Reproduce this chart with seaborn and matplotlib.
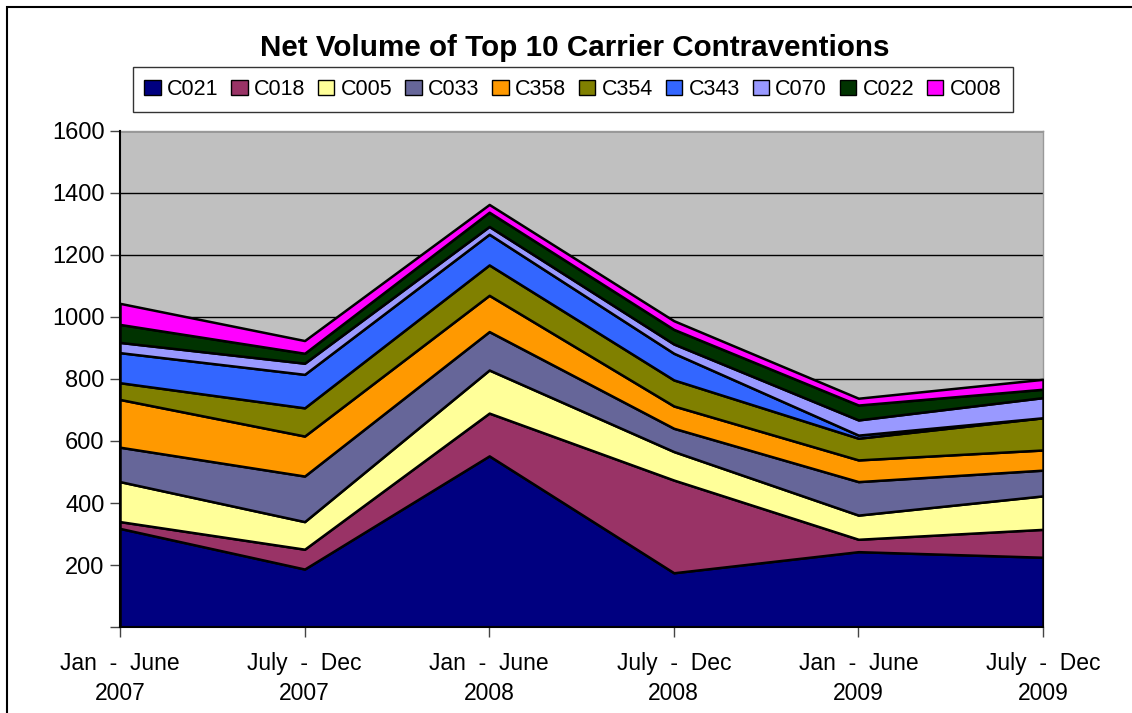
import matplotlib
matplotlib.use("Agg")
import matplotlib.pyplot as plt
from matplotlib.patches import Patch, Rectangle
import seaborn as sns

periods = ["Jan  -  June\n2007", "July  -  Dec\n2007", "Jan  -  June\n2008",
           "July  -  Dec\n2008", "Jan  -  June\n2009", "July  -  Dec\n2009"]

carriers = ["C021", "C018", "C005", "C033", "C358", "C354", "C343", "C070", "C022", "C008"]

c021 = [318, 187, 552, 175, 243, 225]
c018 = [22, 64, 138, 299, 40, 90]
c005 = [129, 89, 139, 92, 78, 108]
c033 = [111, 147, 124, 75, 108, 83]
c358 = [154, 129, 117, 72, 70, 65]
c354 = [54, 91, 98, 84, 70, 104]
c343 = [97, 108, 99, 86, 10, 0]
c070 = [33, 36, 25, 30, 49, 65]
c022 = [58, 32, 46, 47, 48, 27]
c008 = [68, 41, 25, 28, 22, 32]

series = [c021, c018, c005, c033, c358, c354, c343, c070, c022, c008]
colors = ["#000080", "#993366", "#FFFF99", "#666699", "#FF9900",
          "#808000", "#3366FF", "#9999FF", "#003300", "#FF00FF"]

sns.set_style("white")
plt.rcParams['font.family'] = ['Liberation Sans', 'DejaVu Sans']
plt.rcParams['text.color'] = 'black'
plt.rcParams['xtick.color'] = 'black'
plt.rcParams['ytick.color'] = 'black'

fig = plt.figure(figsize=(11.32, 7.13), dpi=100)
ax = fig.add_axes([0.106, 0.1206, 0.8154, 0.6957])
ax.set_facecolor("#C0C0C0")

x = list(range(len(periods)))
ax.stackplot(x, *series, colors=colors, edgecolor="black", linewidth=1.8, zorder=3)

ax.set_xlim(0, len(periods) - 1)
ax.set_ylim(0, 1600)
yt = list(range(0, 1601, 200))
ax.set_yticks(yt)
ax.set_yticklabels([""] + [str(v) for v in yt[1:]], fontsize=17)
ax.set_xticks(x)
ax.set_xticklabels(periods, fontsize=16.5, linespacing=1.4)
ax.yaxis.grid(True, color="black", linewidth=1, zorder=1)
ax.set_axisbelow(True)
ax.tick_params(axis="both", direction="out", length=7, width=1, color="#444444",
               left=True, bottom=True, pad=4)
ax.tick_params(axis="x", pad=11)

for side in ["top", "right"]:
    ax.spines[side].set_color("#999999")
    ax.spines[side].set_linewidth(1)
for side in ["left", "bottom"]:
    ax.spines[side].set_color("black")
    ax.spines[side].set_linewidth(1.5)
    ax.spines[side].set_zorder(5)

fig.text(0.508, 0.932, "Net Volume of Top 10 Carrier Contraventions",
         ha="center", va="center", fontsize=21.3, fontweight="bold")

handles = [Patch(facecolor=c, edgecolor="black", linewidth=1) for c in colors]
leg = fig.legend(handles, carriers, loc="center", bbox_to_anchor=(0.506, 0.8745),
                 ncol=10, fontsize=15.5, frameon=True, fancybox=False,
                 handlelength=0.75, handleheight=0.75, handletextpad=0.3,
                 columnspacing=0.6, borderpad=0.55, borderaxespad=0)
leg.get_frame().set_edgecolor("black")
leg.get_frame().set_linewidth(1)

fig.patches.append(Rectangle((7 / 1132, -0.1), 1.2, 1.1 - 7 / 713, transform=fig.transFigure,
                             fill=False, edgecolor="black", linewidth=1.5))

fig.savefig("out.png", dpi=100)
